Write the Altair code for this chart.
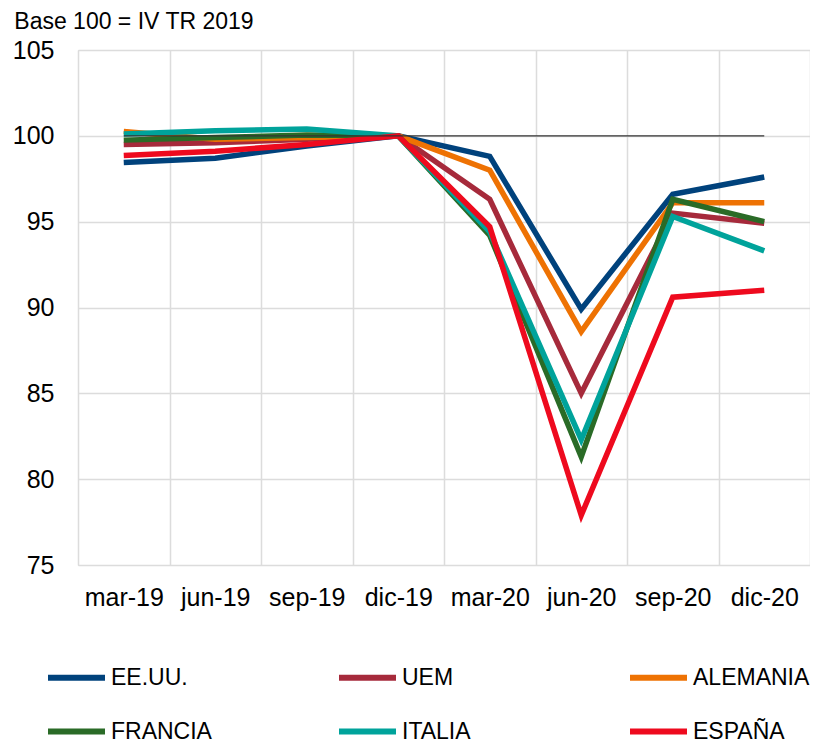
import altair as alt
import pandas as pd

months = ["mar-19", "jun-19", "sep-19", "dic-19", "mar-20", "jun-20", "sep-20", "dic-20"]
series = ["EE.UU.", "UEM", "ALEMANIA", "FRANCIA", "ITALIA", "ESPAÑA"]
colors = ["#00427C", "#A62A3B", "#EE7203", "#2A6B27", "#00A39B", "#EE0A1E"]

eeuu = [98.45, 98.7, 99.4, 100.0, 98.8, 89.9, 96.6, 97.6]
uem = [99.5, 99.6, 99.8, 100.0, 96.3, 85.0, 95.5, 94.9]
alemania = [100.25, 99.8, 99.9, 100.0, 98.0, 88.6, 96.1, 96.1]
francia = [99.75, 99.9, 100.05, 100.0, 94.2, 81.3, 96.3, 95.0]
italia = [100.1, 100.3, 100.4, 100.0, 94.4, 82.3, 95.3, 93.3]
espana = [98.85, 99.1, 99.5, 100.0, 94.7, 77.9, 90.6, 91.0]
base_value = [100]

values = [eeuu, uem, alemania, francia, italia, espana]
rows = []
for s, vals in zip(series, values):
    for m, v in zip(months, vals):
        rows.append({"serie": s, "mes": m, "valor": v, "orden": series.index(s)})
df = pd.DataFrame(rows)
base_df = pd.DataFrame({"ini": [months[0]], "fin": [months[-1]], "valor": base_value})

FONT = "Liberation Sans"

xscale = alt.Scale(type="band", domain=months, paddingInner=0, paddingOuter=0)
yscale = alt.Scale(domain=[75, 105], nice=False, zero=False)

lines = alt.Chart(df).mark_line(strokeWidth=5.5, strokeCap="butt", strokeJoin="miter").encode(
    x=alt.X("mes:N", scale=xscale, bandPosition=0.5, sort=months,
            axis=alt.Axis(title=None, tickBand="extent", grid=True, ticks=False, domain=False,
                          labelFontSize=25, labelFont=FONT, labelColor="#000000",
                          labelPadding=20, labelAngle=0, gridColor="#dcdcdc", gridWidth=1.5)),
    y=alt.Y("valor:Q", scale=yscale,
            axis=alt.Axis(title=None, values=[75, 80, 85, 90, 95, 100, 105], grid=True, ticks=False,
                          domain=False, labelFontSize=25, labelFont=FONT, labelColor="#000000",
                          labelPadding=24, gridColor="#dcdcdc", gridWidth=1.5)),
    color=alt.Color("serie:N", scale=alt.Scale(domain=series, range=colors),
                    legend=alt.Legend(orient="none", legendX=-33, legendY=596, direction="horizontal",
                                      columns=3, symbolType="stroke", symbolSize=3249,
                                      symbolStrokeWidth=6, labelFontSize=23, labelFont=FONT,
                                      labelColor="#000000", labelOffset=3, columnPadding=99,
                                      rowPadding=10, gridAlign="all", title=None, labelLimit=400,
                                      padding=0)),
    order=alt.Order("orden:Q"),
    detail="serie:N",
)

rule = alt.Chart(base_df).mark_rule(color="#333333", strokeWidth=1.2).encode(
    x=alt.X("ini:N", scale=xscale, bandPosition=0.5),
    x2="fin:N",
    y=alt.Y("valor:Q", scale=yscale),
)

chart = alt.layer(lines, rule).properties(
    width=732, height=515,
    padding={"left": 4, "top": 3, "right": 0, "bottom": 0},
    title=alt.Title("Base 100 = IV TR 2019", anchor="start", fontSize=23, fontWeight="normal",
                    font=FONT, color="#000000", offset=4, dx=2),
).configure_view(stroke=None).configure(background="white")

chart.save("out.html", embed_options={"renderer": "svg", "actions": False})
